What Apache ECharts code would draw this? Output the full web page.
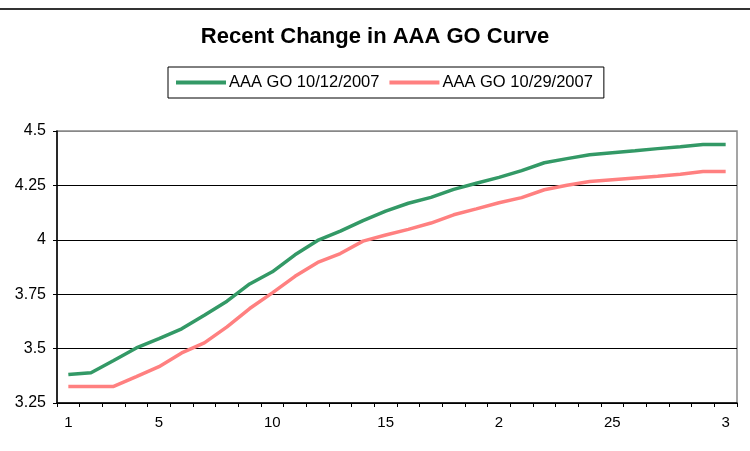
<!DOCTYPE html>
<html>
<head>
<meta charset="utf-8">
<script src="https://cdn.jsdelivr.net/npm/echarts@6/dist/echarts.min.js"></script>
<style>
html,body{margin:0;padding:0;background:#fff;}
#c{width:750px;height:451px;}
</style>
</head>
<body>
<div id="c"></div>
<script>
var categories = ['1','2','3','4','5','6','7','8','9','10','11','12','13','14','15','16','17','18','19','20','21','22','23','24','25','26','27','28','29','30'];
var tickPositions = ['1','5','10','15','20','25','30'];
var tickLabels = ['1','5','10','15','2','25','3'];
var seriesNames = ['AAA GO 10/12/2007', 'AAA GO 10/29/2007'];
var go1012 = [3.381,3.389,3.445,3.503,3.546,3.591,3.653,3.718,3.797,3.853,3.931,3.997,4.040,4.088,4.132,4.168,4.195,4.232,4.260,4.287,4.318,4.354,4.373,4.391,4.400,4.409,4.419,4.428,4.438,4.438];
var go1029 = [3.326,3.326,3.326,3.371,3.417,3.480,3.526,3.600,3.684,3.756,3.832,3.896,3.937,3.994,4.022,4.048,4.077,4.115,4.142,4.170,4.194,4.230,4.251,4.268,4.276,4.284,4.292,4.301,4.314,4.314];
var yMin = 3.25, yMax = 4.5, yStep = 0.25;

var chart = echarts.init(document.getElementById('c'), null, {renderer:'canvas'});
chart.setOption({
  backgroundColor: '#fff',
  animation: false,
  textStyle: {fontFamily: 'Liberation Sans, Arial, sans-serif'},
  graphic: [{
    type: 'line', shape: {x1: 0, y1: 9, x2: 750, y2: 9},
    style: {stroke: '#333', lineWidth: 2}
  }],
  title: {
    text: 'Recent Change in AAA GO Curve',
    left: 'center', top: 26, padding: 0,
    textStyle: {fontSize: 22, fontWeight: 'bold', color: '#000', fontFamily: 'Liberation Sans, Arial, sans-serif'}
  },
  legend: {
    left: 168, top: 67,
    padding: [7, 11, 7, 8],
    borderColor: '#000', borderWidth: 1,
    itemWidth: 50, itemHeight: 4, itemGap: 10,
    icon: 'rect',
    textStyle: {fontSize: 16.5, color: '#000', padding: [0,0,0,-2]},
    data: seriesNames
  },
  grid: {
    left: 57, right: 13, top: 131, bottom: 48,
    show: true, borderColor: '#888', borderWidth: 1.5, backgroundColor: 'transparent'
  },
  xAxis: {
    type: 'category',
    data: categories,
    boundaryGap: true,
    axisLine: {show: true, lineStyle: {color: '#000', width: 1.5}},
    axisTick: {show: true, interval: 0, length: 4, lineStyle: {color: '#000'}},
    axisLabel: {
      interval: function (i) { return tickPositions.indexOf(categories[i]) >= 0; },
      formatter: function (v) { var k = tickPositions.indexOf(v); return k >= 0 ? tickLabels[k] : ''; },
      fontSize: 15, color: '#000', margin: 12
    },
    splitLine: {show: false}
  },
  yAxis: {
    type: 'value',
    min: yMin, max: yMax, interval: yStep,
    axisLine: {show: true, lineStyle: {color: '#000', width: 1.5}},
    axisTick: {show: true, length: 4, lineStyle: {color: '#000'}},
    axisLabel: {fontSize: 16, color: '#000', margin: 11},
    splitLine: {show: true, lineStyle: {color: ['#000','#000','#000','#000','#000','#888'], width: 1}}
  },
  series: [
    {name: seriesNames[0], type: 'line', data: go1012, symbol: 'none', color: '#339966',
     lineStyle: {width: 3.5, color: '#339966'}},
    {name: seriesNames[1], type: 'line', data: go1029, symbol: 'none', color: '#FF8080',
     lineStyle: {width: 3.5, color: '#FF8080'}}
  ]
});
</script>
</body>
</html>
